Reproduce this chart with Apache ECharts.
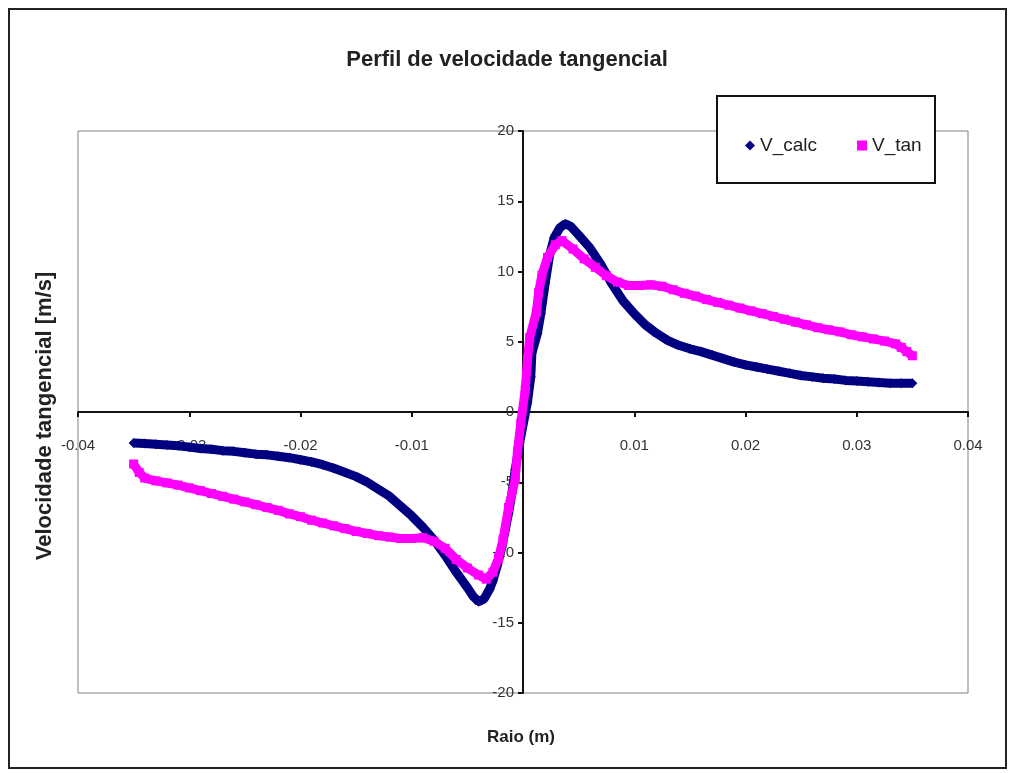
<!DOCTYPE html>
<html>
<head>
<meta charset="utf-8">
<script src="https://cdn.jsdelivr.net/npm/echarts@6/dist/echarts.min.js"></script>
<style>
html,body{margin:0;padding:0;background:#fff;}
#main{width:1014px;height:773px;}
</style>
</head>
<body>
<div id="main"></div>
<script>
// dados
var raioCalc=[-0.035,-0.034,-0.033,-0.032,-0.031,-0.030,-0.029,-0.028,-0.027,-0.026,-0.025,-0.024,-0.023,-0.022,-0.021,-0.020,-0.019,-0.018,-0.017,-0.016,-0.015,-0.014,-0.013,-0.012,-0.011,-0.010,-0.009,-0.008,-0.007,-0.006,-0.005,-0.0045,-0.004,-0.0035,-0.003,-0.0027,-0.0023,-0.0019,-0.0016,-0.0013,-0.001,-0.0007,-0.0003,0.0004,0.0007,0.0008,0.0013,0.0016,0.002,0.0024,0.0028,0.0033,0.0038,0.0043,0.005,0.006,0.007,0.008,0.009,0.010,0.011,0.012,0.013,0.014,0.015,0.016,0.017,0.018,0.019,0.020,0.021,0.022,0.023,0.024,0.025,0.026,0.027,0.028,0.029,0.030,0.031,0.032,0.033,0.034,0.035];
var vCalc=[-2.2,-2.25,-2.3,-2.35,-2.4,-2.5,-2.6,-2.65,-2.75,-2.8,-2.9,-3.0,-3.05,-3.15,-3.25,-3.4,-3.55,-3.75,-4.0,-4.3,-4.6,-5.0,-5.5,-6.0,-6.7,-7.4,-8.2,-9.1,-10.2,-11.4,-12.5,-13.1,-13.5,-13.3,-12.6,-12.0,-10.9,-9.6,-8.4,-7.2,-5.8,-4.1,-2.2,0.7,2.5,4.2,5.6,7.0,9.2,11.2,12.4,13.1,13.4,13.2,12.6,11.7,10.5,9.1,7.9,7.0,6.2,5.6,5.1,4.75,4.5,4.3,4.05,3.8,3.55,3.35,3.2,3.05,2.9,2.75,2.6,2.5,2.4,2.35,2.25,2.2,2.15,2.1,2.05,2.05,2.05];

var raioTan=[-0.035,-0.0345,-0.034,-0.033,-0.032,-0.031,-0.030,-0.029,-0.028,-0.027,-0.026,-0.025,-0.024,-0.023,-0.022,-0.021,-0.020,-0.019,-0.018,-0.017,-0.016,-0.015,-0.014,-0.013,-0.012,-0.011,-0.010,-0.009,-0.008,-0.007,-0.006,-0.005,-0.004,-0.0033,-0.0027,-0.0022,-0.0018,-0.0013,-0.0007,-0.0005,-0.0002,0.0002,0.0004,0.0006,0.0012,0.0014,0.0017,0.0022,0.0029,0.0035,0.0045,0.0055,0.0065,0.0075,0.0085,0.0095,0.0105,0.0115,0.0125,0.0135,0.0145,0.0155,0.0165,0.0175,0.0185,0.0195,0.0205,0.0215,0.0225,0.0235,0.0245,0.0255,0.0265,0.0275,0.0285,0.0295,0.0305,0.0315,0.0325,0.0335,0.034,0.0345,0.035];
var vTan=[-3.7,-4.3,-4.7,-4.9,-5.05,-5.2,-5.4,-5.6,-5.8,-6.0,-6.2,-6.4,-6.6,-6.8,-7.0,-7.25,-7.45,-7.7,-7.9,-8.1,-8.3,-8.5,-8.65,-8.8,-8.9,-9.0,-9.0,-8.95,-9.2,-9.7,-10.5,-11.1,-11.6,-11.9,-11.4,-10.4,-9.1,-6.8,-4.8,-2.8,-0.8,1.6,3.7,5.3,7.1,8.5,9.75,11.0,11.9,12.2,11.6,10.9,10.3,9.7,9.25,9.0,9.0,9.05,8.95,8.7,8.45,8.25,8.0,7.8,7.6,7.4,7.2,7.0,6.8,6.6,6.4,6.2,6.0,5.85,5.7,5.5,5.35,5.2,5.05,4.85,4.6,4.3,4.0];

var serieNomes=['V_calc','V_tan'];
var titulo='Perfil de velocidade tangencial';
var eixoX='Raio (m)';
var eixoY='Velocidade tangencial [m/s]';

var fonte="'Liberation Sans',Arial,sans-serif";

function pares(xs,ys){
	var lista=[];
	for(var i=0;i<xs.length;i++){
		lista.push([xs[i],ys[i]]);
	}
	return lista;
}

var myChart=echarts.init(document.getElementById('main'));
var option={
	animation:false,
	backgroundColor:'#fff',
	title:{
		text:titulo,
		left:'center',
		top:44,
		textStyle:{fontFamily:fonte,fontSize:22,fontWeight:'bold',color:'#222'}
	},
	legend:{
		left:740,
		top:131,
		itemWidth:10,
		itemHeight:10,
		itemGap:40,
		z:5,
		textStyle:{fontFamily:fonte,fontSize:19,color:'#222'},
		data:[{name:'V_calc',icon:'diamond'},{name:'V_tan',icon:'rect'}]
	},
	grid:{
		left:78,
		right:46,
		top:131,
		bottom:80,
		show:true,
		borderColor:'#808080',
		borderWidth:1
	},
	xAxis:{
		type:'value',
		min:-0.04,
		max:0.04,
		interval:0.01,
		offset:-281,   // eixo cruza em y=0
		axisLine:{onZero:false,lineStyle:{color:'#111',width:2}},
		axisTick:{length:5,lineStyle:{color:'#111',width:2}},
		splitLine:{show:false},
		axisLabel:{
			margin:26,
			fontFamily:fonte,
			fontSize:15,
			color:'#333',
			formatter:function(v){ return v===0?'':String(v); }
		}
	},
	yAxis:{
		type:'value',
		min:-20,
		max:20,
		interval:5,
		offset:-445,   // eixo cruza em x=0
		axisLine:{onZero:false,lineStyle:{color:'#111',width:2}},
		axisTick:{length:5,lineStyle:{color:'#111',width:2}},
		splitLine:{show:false},
		axisLabel:{margin:9,fontFamily:fonte,fontSize:15,color:'#333'}
	},
	graphic:[
		{
			type:'rect',
			z:-1,
			shape:{x:9,y:9,width:997,height:759},
			style:{fill:'none',stroke:'#222',lineWidth:2}
		},
		{
			type:'rect',
			z:3,
			shape:{x:717,y:96,width:218,height:87},
			style:{fill:'#fff',stroke:'#111',lineWidth:2}
		},
		{
			type:'text',
			z:3,
			x:45,
			y:416,
			rotation:Math.PI/2,
			style:{text:eixoY,fontFamily:fonte,fontSize:22,fontWeight:'bold',fill:'#222',align:'center',verticalAlign:'middle'}
		},
		{
			type:'text',
			z:3,
			x:521,
			y:737,
			style:{text:eixoX,fontFamily:fonte,fontSize:17,fontWeight:'bold',fill:'#222',align:'center',verticalAlign:'middle'}
		}
	],
	series:[
		{
			name:serieNomes[0],
			type:'line',
			data:pares(raioCalc,vCalc),
			symbol:'diamond',
			symbolSize:10,
			itemStyle:{color:'#000080'},
			lineStyle:{color:'#000080',width:9},
			z:2
		},
		{
			name:serieNomes[1],
			type:'line',
			data:pares(raioTan,vTan),
			symbol:'rect',
			symbolSize:9,
			itemStyle:{color:'#ff00ff'},
			lineStyle:{color:'#ff00ff',width:9},
			z:3
		}
	]
};
myChart.setOption(option);
</script>
</body>
</html>
